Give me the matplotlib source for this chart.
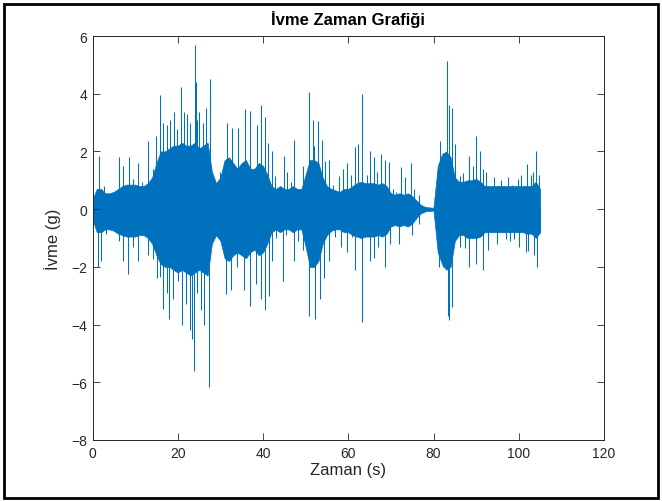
import matplotlib
matplotlib.use("Agg")
import matplotlib.pyplot as plt
from matplotlib.patches import Rectangle

plt.rcParams['font.family'] = ['Liberation Sans', 'DejaVu Sans']

# ---- data ----
# dense core band of the record (1 s steps, t = 0..105)
core_t = list(range(0, 106))
core_hi = [0.35, 0.7, 0.7, 0.55, 0.55, 0.6, 0.7, 0.8, 0.85, 0.85,
           0.85, 0.8, 0.8, 0.9, 1.1, 1.6, 2.0, 2.0, 2.1, 2.2,
           2.2, 2.3, 2.2, 2.2, 2.3, 2.1, 2.2, 2.3, 1.3, 0.9,
           1.1, 1.7, 1.8, 1.6, 1.4, 1.6, 1.7, 1.4, 1.4, 1.6,
           1.5, 1.2, 0.8, 0.7, 0.8, 0.7, 0.7, 0.8, 0.7, 0.7,
           1.2, 1.7, 1.7, 1.6, 1.1, 0.8, 0.7, 0.65, 0.6, 0.7,
           0.7, 0.8, 0.9, 0.95, 0.9, 0.9, 0.9, 0.85, 0.9, 0.8,
           0.55, 0.5, 0.55, 0.5, 0.55, 0.45, 0.3, 0.15, 0.08, 0.06,
           0.05, 1.5, 1.9, 2.0, 1.8, 1.1, 0.95, 0.95, 1.0, 1.0,
           1.05, 0.95, 0.8, 0.8, 0.8, 0.8, 0.8, 0.8, 0.8, 0.8,
           0.8, 0.8, 0.8, 0.8, 0.95, 0.7]
core_lo = [-0.35, -0.8, -0.8, -0.7, -0.7, -0.75, -0.85, -0.9, -0.95, -0.95,
           -0.95, -0.9, -0.9, -1.0, -1.2, -1.6, -1.9, -2.0, -2.0, -2.1,
           -2.2, -2.1, -2.2, -2.3, -2.2, -2.1, -2.2, -2.3, -1.2, -0.9,
           -1.1, -1.7, -1.8, -1.6, -1.5, -1.6, -1.7, -1.5, -1.4, -1.6,
           -1.5, -1.2, -0.8, -0.7, -0.8, -0.7, -0.7, -0.8, -0.7, -0.7,
           -1.3, -2.0, -2.0, -1.8, -1.2, -0.9, -0.75, -0.7, -0.7, -0.8,
           -0.8, -0.9, -0.95, -1.0, -0.95, -0.95, -0.95, -0.9, -0.95, -0.85,
           -0.6, -0.55, -0.6, -0.55, -0.6, -0.5, -0.3, -0.15, -0.08, -0.06,
           -0.05, -1.5, -1.9, -2.1, -2.0, -1.1, -0.9, -0.9, -1.0, -1.0,
           -1.0, -0.95, -0.8, -0.8, -0.8, -0.8, -0.8, -0.8, -0.8, -0.8,
           -0.8, -0.8, -0.85, -0.85, -1.0, -0.8]

# individual peaks sticking out of the band
up_t = [1.6, 2.8, 6.3, 7.1, 8.5, 9.4, 10.6, 11.7, 13.1, 14.1,
        14.9, 15.8, 16.6, 17.4, 18.1, 19.1, 19.8, 20.8, 21.5, 22.1,
        22.8, 24.0, 24.3, 24.5, 25.1, 25.9, 26.7, 27.5, 27.6, 29.9,
        31.5, 32.7, 34.2, 35.7, 37.0, 38.5, 39.6, 40.4, 41.2, 42.0,
        42.8, 44.9, 45.7, 46.5, 47.2, 49.5, 50.8, 51.8, 52.0, 52.9,
        53.8, 54.6, 55.5, 56.5, 57.9, 58.8, 59.8, 60.7, 61.5, 62.4,
        63.3, 64.3, 65.2, 66.0, 66.8, 67.8, 68.6, 69.5, 70.5, 71.3,
        72.3, 73.2, 74.7, 75.5, 76.6, 81.5, 82.2, 83.2, 83.6, 84.4,
        85.0, 86.2, 86.9, 88.4, 89.2, 90.0, 90.8, 91.5, 92.3, 94.2,
        95.8, 97.4, 98.5, 99.9, 100.6, 101.9, 102.8, 103.4, 104.1, 104.7]
up_v = [1.85, 0.8, 1.8, 1.5, 1.8, 1.05, 1.6, 0.95, 2.35, 1.4,
        2.55, 3.96, 3.0, 2.9, 3.1, 3.35, 2.76, 4.22, 3.35, 3.3,
        3.0, 5.7, 4.4, 3.1, 3.35, 3.0, 3.5, 4.5, 3.8, 1.3,
        3.0, 2.8, 2.8, 3.47, 3.4, 2.9, 3.6, 3.2, 2.3, 2.0,
        1.15, 1.85, 1.3, 0.95, 2.4, 1.5, 4.07, 3.1, 2.2, 3.05,
        2.4, 1.66, 1.7, 0.85, 1.15, 1.4, 1.6, 1.2, 2.14, 2.25,
        4.0, 1.2, 2.0, 1.8, 1.3, 1.9, 1.7, 1.65, 0.7, 0.6,
        1.45, 1.1, 1.6, 0.7, 0.5, 2.37, 1.95, 5.15, 3.6, 3.5,
        2.25, 1.15, 1.25, 1.85, 1.5, 2.55, 2.0, 1.4, 1.3, 1.1,
        1.0, 1.1, 0.85, 1.05, 1.2, 1.55, 1.2, 1.3, 2.03, 1.2]
dn_t = [1.3, 1.9, 3.2, 6.3, 7.2, 8.3, 9.4, 10.6, 13.1, 14.2,
        15.1, 15.8, 16.6, 17.4, 18.0, 18.9, 20.0, 20.9, 21.9, 22.8,
        23.4, 23.9, 24.6, 25.4, 26.2, 27.4, 30.0, 31.4, 32.6, 33.8,
        35.5, 36.9, 38.4, 39.6, 40.4, 41.4, 42.0, 43.0, 44.7, 45.5,
        47.2, 48.3, 49.3, 50.8, 52.3, 53.4, 54.2, 55.4, 56.9, 58.3,
        59.6, 60.9, 61.7, 63.3, 64.3, 65.0, 66.1, 67.0, 68.7, 69.7,
        72.0, 73.6, 75.0, 75.8, 76.5, 81.3, 82.2, 83.4, 83.6, 84.3,
        86.1, 87.3, 88.4, 90.0, 91.5, 92.8, 94.8, 97.0, 97.9, 98.9,
        100.1, 101.8, 102.2, 103.6, 104.3, 105.0]
dn_v = [-2.0, -1.8, -0.85, -1.1, -1.8, -2.25, -1.3, -1.8, -1.6, -1.73,
        -2.4, -2.35, -3.46, -2.9, -3.8, -3.1, -2.5, -4.03, -3.3, -4.2,
        -4.5, -5.6, -2.9, -3.5, -4.0, -6.17, -1.0, -2.94, -2.8, -2.0,
        -2.8, -3.34, -2.6, -3.1, -3.5, -3.0, -1.8, -1.0, -2.5, -0.9,
        -1.8, -1.1, -1.4, -3.7, -3.8, -3.1, -2.4, -1.8, -0.95, -1.3,
        -1.5, -0.95, -2.1, -3.92, -0.9, -1.8, -1.7, -1.3, -2.0, -1.2,
        -1.2, -0.6, -0.9, -0.35, -0.5, -2.0, -2.0, -3.69, -3.85, -3.4,
        -1.3, -1.35, -2.0, -1.9, -2.1, -1.4, -1.2, -1.05, -1.1, -1.05,
        -1.3, -1.5, -1.45, -1.6, -2.0, -0.8]

x_ticks = [0, 20, 40, 60, 80, 100, 120]
y_ticks = [-8, -6, -4, -2, 0, 2, 4, 6]

# ---- drawing ----
blue = '#0072BD'
fig = plt.figure(figsize=(6.62, 5.02), dpi=100)
ax = fig.add_axes([92.5 / 662, 1 - 441 / 502, (604 - 92.5) / 662, (441 - 37) / 502])

ax.fill_between(core_t, core_lo, core_hi, color=blue, linewidth=0.5, edgecolor=blue)
ax.vlines(up_t, 0, up_v, color=blue, linewidth=0.75)
ax.vlines(dn_t, 0, dn_v, color=blue, linewidth=0.75)

ax.set_xlim(0, 120)
ax.set_ylim(-8, 6)
ax.set_xticks(x_ticks)
ax.set_yticks(y_ticks)
ax.tick_params(direction='in', length=5, width=0.6, top=True, right=True,
               labelsize=10, colors='#262626', pad=4)
for s in ax.spines.values():
    s.set_linewidth(0.7)
    s.set_color('#262626')

ax.set_title('İvme Zaman Grafiği', fontsize=12, fontweight='bold', color='#000000', pad=9)
ax.set_xlabel('Zaman (s)', fontsize=12, color='#262626', labelpad=2)
ax.set_ylabel('İvme (g)', fontsize=12, color='#262626', labelpad=7)

fig.patches.append(Rectangle((4 / 662, 3 / 502), 654 / 662, 494 / 502, transform=fig.transFigure,
                             fill=False, edgecolor='black', linewidth=2))

fig.savefig('out.png', dpi=100)
